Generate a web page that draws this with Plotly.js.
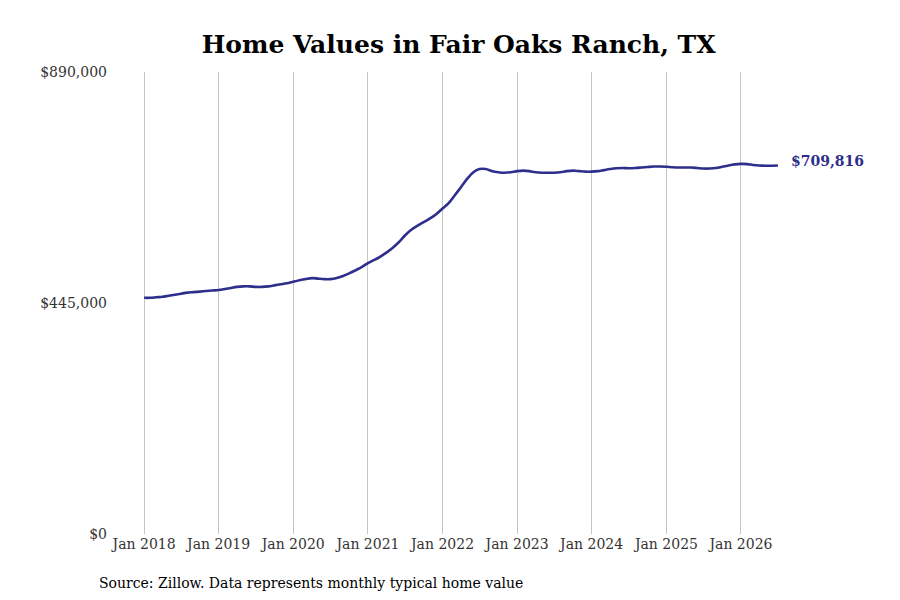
<!DOCTYPE html>
<html>
<head>
<meta charset="utf-8">
<script src="https://cdn.plot.ly/plotly-3.0.1.min.js"></script>
<style>
    body { margin: 0; background: #fff; }
    #chart { width: 900px; height: 600px; }
</style>
</head>
<body>
<div id="chart"></div>
<script>
"use strict";

// monthly typical home value, Jan 2018 .. Jul 2026 (thousands of dollars)
let startYear = 2018;
let values2018 = [455, 455, 456, 457, 459, 461, 463, 465, 466, 467, 468, 469];
let values2019 = [470, 472, 474, 476, 477, 477, 476, 476, 477, 479, 481, 483];
let values2020 = [486, 489, 491, 493, 492, 491, 491, 493, 497, 502, 508, 514];
let values2021 = [522, 528, 534, 542, 551, 562, 575, 586, 594, 601, 608, 616];
let values2022 = [627, 638, 652, 668, 684, 697, 703, 703, 699, 697, 696, 697];
let values2023 = [699, 700, 699, 697, 696, 696, 696, 697, 699, 700, 699, 698];
let values2024 = [698, 699, 701, 703, 704.5, 705, 704.5, 705, 706, 707, 708, 708];
let values2025 = [707.5, 706.5, 706, 706, 706, 705, 704, 704, 705, 707.5, 710, 712];
let values2026 = [713, 712.5, 711, 710, 709.5, 709.5, 709.816];

let yTickValues = [0, 445000, 890000];
let yTickLabels = ["$0", "$445,000", "$890,000"];
let xTickYears = [2018, 2019, 2020, 2021, 2022, 2023, 2024, 2025, 2026];

let lineColor = "#2e2e8c";
let serif = "DejaVu Serif, serif";

function buildSeries() {
    let all = [].concat(values2018, values2019, values2020, values2021,
        values2022, values2023, values2024, values2025, values2026);
    let x = [], y = [];
    all.forEach(function (v, i) {
        let year = startYear + Math.floor(i / 12);
        let month = (i % 12) + 1;
        x.push(year + "-" + (month < 10 ? "0" + month : month) + "-01");
        y.push(Math.round(v * 1000));
    });
    return {x: x, y: y};
}

function money(v) {
    return "$" + v.toLocaleString("en-US");
}

function drawChart() {
    let series = buildSeries();
    let last = series.y.length - 1;
    let marginL = 111, marginR = 110;
    let plotWidth = 900 - marginL - marginR;

    let trace = {
        x: series.x,
        y: series.y,
        type: "scatter",
        mode: "lines",
        line: {color: lineColor, width: 2.6, shape: "spline", smoothing: 0.8},
        hoverinfo: "none"
    };

    let layout = {
        width: 900,
        height: 600,
        margin: {l: marginL, r: marginR, t: 72, b: 66},
        paper_bgcolor: "#fff",
        plot_bgcolor: "#fff",
        showlegend: false,
        font: {family: serif, size: 14, color: "#333"},
        title: {
            text: "<b>Home Values in Fair Oaks Ranch, TX</b>",
            font: {family: serif, size: 25, color: "#000"},
            x: 0.512, xanchor: "center", xref: "paper",
            y: 0.927, yanchor: "middle"
        },
        xaxis: {
            type: "date",
            range: ["2017-07-23", "2026-08-29"],
            tickvals: xTickYears.map(function (yr) { return yr + "-01-01"; }),
            ticktext: xTickYears.map(function (yr) { return "Jan " + yr; }),
            showgrid: true,
            gridcolor: "#c4c4c4",
            gridwidth: 1,
            zeroline: false,
            showline: false,
            ticks: "",
            tickfont: {family: serif, size: 14, color: "#333"}
        },
        yaxis: {
            range: [0, 890000],
            tickvals: yTickValues,
            ticktext: yTickLabels,
            showgrid: false,
            zeroline: false,
            showline: false,
            ticks: "",
            ticklabelstandoff: 3,
            tickfont: {family: serif, size: 14, color: "#333"}
        },
        annotations: [
            {
                x: series.x[last],
                y: series.y[last],
                xref: "x", yref: "y",
                text: "<b>" + money(series.y[last]) + "</b>",
                showarrow: false,
                xanchor: "left",
                yanchor: "middle",
                xshift: 11,
                yshift: 5,
                font: {family: serif, size: 14, color: lineColor}
            },
            {
                x: (97 - marginL) / plotWidth,
                y: -0.106,
                xref: "paper", yref: "paper",
                text: "Source: Zillow. Data represents monthly typical home value",
                showarrow: false,
                xanchor: "left",
                yanchor: "middle",
                font: {family: serif, size: 14, color: "#000"}
            }
        ]
    };

    Plotly.newPlot("chart", [trace], layout, {staticPlot: true, displayModeBar: false});
}

drawChart();
</script>
</body>
</html>
